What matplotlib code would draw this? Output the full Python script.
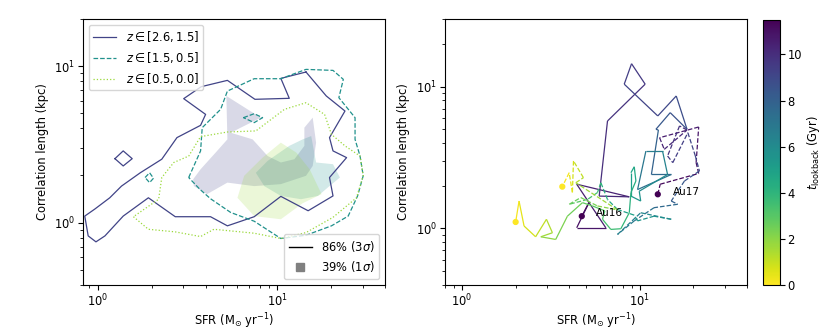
import numpy as np
import matplotlib
matplotlib.use('Agg')
import matplotlib.pyplot as plt
from matplotlib.collections import LineCollection
from matplotlib.lines import Line2D

# --- lewy panel: kontury 86% (linie) i 39% (wypełnienia) ---
hi_z_sfr = [14.5, 18.8, 23.9, 19.6, 20.5, 24.4, 19.6, 20.5, 14.9, 10.5, 7.46, 5.29, 4.26, 2.71, 1.92, 1.39,
            1.10, 0.98, 0.887, 0.849, 0.966, 1.17, 1.36, 1.73, 2.28, 2.77, 3.75, 4.00, 3.02, 3.78, 5.29, 7.53,
            11.7, 10.5]
hi_z_len = [9.16, 6.44, 5.16, 3.49, 2.87, 2.60, 1.94, 1.48, 1.19, 1.47, 1.09, 0.953, 1.09, 1.09, 1.44, 1.10,
            0.822, 0.753, 0.822, 1.10, 1.22, 1.44, 1.71, 2.08, 2.54, 3.49, 4.18, 4.91, 6.19, 7.38, 8.10, 6.13,
            6.22, 8.34]
hi_z_island_sfr = [1.25, 1.39, 1.56, 1.39]
hi_z_island_len = [2.56, 2.87, 2.56, 2.30]

mid_z_sfr = [3.22, 3.75, 3.83, 4.85, 5.29, 7.46, 10.5, 14.5, 20.5, 23.4, 22.1, 27.2, 27.2, 29.0, 30.2, 28.1,
             24.9, 20.1, 14.5, 10.5, 7.46, 5.52, 4.26, 3.72]
mid_z_len = [1.94, 2.87, 4.04, 5.29, 6.92, 8.30, 8.30, 9.52, 9.38, 8.22, 6.28, 4.68, 3.40, 2.66, 1.99, 1.48,
             1.10, 0.953, 0.830, 0.791, 1.02, 1.16, 1.42, 1.63]
mid_z_island1_sfr = [6.50, 7.46, 8.31, 7.46]
mid_z_island1_len = [4.68, 4.96, 4.68, 4.35]
mid_z_island2_sfr = [1.84, 1.95, 2.05, 1.95]
mid_z_island2_len = [1.94, 2.08, 1.92, 1.80]

lo_z_sfr = [1.585, 1.92, 2.71, 3.75, 4.45, 7.46, 10.5, 14.5, 20.5, 27.7, 30.2, 29.0, 23.9, 20.1, 18.4, 14.5,
            11.0, 7.62, 5.29, 3.75, 3.22, 2.66, 2.28, 2.19]
lo_z_len = [1.09, 0.906, 0.872, 0.814, 0.906, 0.855, 0.791, 0.863, 1.08, 1.44, 1.99, 2.66, 3.09, 3.66, 4.91,
            5.83, 5.29, 3.85, 3.79, 3.54, 2.66, 2.42, 1.94, 1.41]

hi_z_core_sfr = [3.41, 3.75, 4.55, 5.29, 5.22, 6.85, 8.13, 6.28, 5.52, 7.31, 8.87, 10.5, 12.5, 14.2, 14.2,
                 15.8, 16.5, 15.8, 14.5, 10.5, 7.46, 5.29, 4.08, 3.44]
hi_z_core_len = [1.89, 2.19, 2.80, 3.40, 6.44, 5.29, 4.68, 4.04, 3.75, 3.40, 2.66, 2.42, 2.54, 3.09, 4.04,
                 4.68, 3.24, 2.30, 1.99, 1.76, 1.71, 1.80, 1.52, 1.71]
mid_z_core_sfr = [7.62, 8.87, 11.7, 13.9, 15.5, 16.5, 20.5, 22.4, 19.6, 16.9, 13.6, 10.5, 8.49]
mid_z_core_len = [2.08, 2.48, 3.09, 3.40, 3.57, 2.42, 2.36, 1.94, 1.71, 1.48, 1.41, 1.48, 1.71]
lo_z_core_sfr = [6.02, 6.56, 8.31, 10.5, 12.8, 15.2, 17.7, 13.9, 10.5, 7.46]
lo_z_core_len = [1.44, 1.99, 2.60, 3.24, 2.80, 2.19, 1.52, 1.33, 1.05, 1.10]

z_labels = [r'$z \in [2.6, 1.5]$', r'$z \in [1.5, 0.5]$', r'$z \in [0.5, 0.0]$']

# --- prawy panel: ścieżki Au16 (ciągła) i Au17 (przerywana) ---
au16_sfr = [4.71, 5.18, 4.41, 6.43, 4.41, 8.71, 5.90, 6.57, 10.7, 8.97, 8.16, 12.6, 16.0, 18.4, 14.8, 12.3,
            12.7, 11.6, 15.0, 9.70, 10.8, 13.4, 14.3, 9.91, 10.1, 8.90, 8.90, 9.29, 9.49, 8.90, 8.71, 7.81,
            6.86, 6.16, 6.35, 5.41, 4.75, 3.91, 3.36, 2.77, 3.22, 2.98, 2.59, 2.23, 2.09, 2.00]
au16_len = [1.22, 1.53, 1.01, 1.01, 2.05, 1.67, 1.69, 5.72, 10.4, 14.5, 10.4, 6.21, 8.59, 5.00, 6.55, 5.00,
            4.94, 2.40, 2.40, 1.88, 3.51, 3.51, 2.40, 1.83, 1.56, 1.69, 2.47, 2.72, 2.16, 1.79, 1.29, 0.995,
            0.984, 1.16, 1.33, 1.44, 1.52, 1.22, 0.836, 0.873, 0.932, 1.16, 0.873, 1.04, 1.56, 1.11]
au16_t = [11.5, 11.2, 10.9, 10.7, 10.5, 10.3, 10.1, 9.9, 9.7, 9.5, 9.3, 9.1, 8.9, 8.7, 8.5, 8.3, 8.1, 7.8,
          7.5, 7.1, 6.8, 6.5, 6.2, 5.8, 5.5, 5.2, 4.9, 4.7, 4.5, 4.3, 4.0, 3.7, 3.5, 3.3, 3.1, 2.9, 2.7, 2.4,
          2.1, 1.8, 1.5, 1.2, 0.9, 0.6, 0.3, 0.0]

au17_sfr = [12.6, 13.0, 21.4, 20.7, 21.4, 12.9, 13.7, 18.4, 16.7, 14.3, 15.3, 18.6, 20.5, 21.6, 17.8, 15.0,
            16.3, 12.0, 9.29, 7.48, 10.1, 15.0, 12.0, 9.70, 9.29, 7.48, 6.57, 6.03, 5.77, 5.07, 4.00, 4.65,
            5.77, 7.48, 4.36, 4.81, 4.23, 4.17, 4.00, 3.66]
au17_len = [1.74, 2.05, 2.44, 2.91, 5.19, 4.36, 3.61, 4.94, 5.28, 3.24, 2.91, 4.73, 3.24, 2.54, 2.16, 1.56,
            1.48, 1.40, 1.13, 0.907, 1.29, 1.16, 1.22, 1.13, 1.24, 1.36, 1.60, 2.10, 1.79, 1.60, 1.48, 1.65,
            1.44, 1.35, 2.10, 2.28, 2.99, 1.79, 2.47, 1.97]
au17_t = [11.5, 11.3, 11.1, 10.9, 10.7, 10.5, 10.3, 10.1, 9.9, 9.7, 9.5, 9.3, 9.1, 8.8, 8.5, 8.2, 7.8, 7.4,
          7.0, 6.6, 6.3, 6.0, 5.7, 5.4, 5.1, 4.8, 4.4, 4.0, 3.6, 3.2, 2.8, 2.5, 2.2, 1.9, 1.5, 1.2, 0.9, 0.6,
          0.3, 0.0]

t_max = 11.5

plt.rcParams['font.size'] = 8.3
plt.rcParams['xtick.major.pad'] = 2
plt.rcParams['ytick.major.pad'] = 2
plt.rcParams['axes.labelpad'] = 1.5

fig = plt.figure(figsize=(8.3, 3.32), dpi=100)
ax1 = fig.add_axes([0.100, 0.142, 0.364, 0.801])
ax2 = fig.add_axes([0.536, 0.142, 0.364, 0.801])
cax = fig.add_axes([0.919, 0.142, 0.0205, 0.798])

viridis = plt.get_cmap('viridis')
c_hi, c_mid, c_lo = viridis(0.2), viridis(0.5), viridis(0.85)


def closed(xs, ys):
    return list(xs) + [xs[0]], list(ys) + [ys[0]]


# wypełnienia 1 sigma
ax1.fill(hi_z_core_sfr, hi_z_core_len, color=c_hi, alpha=0.2, lw=0)
ax1.fill(mid_z_core_sfr, mid_z_core_len, color=c_mid, alpha=0.2, lw=0)
ax1.fill(lo_z_core_sfr, lo_z_core_len, color=c_lo, alpha=0.2, lw=0)

# kontury 3 sigma
ax1.plot(*closed(hi_z_sfr, hi_z_len), color=c_hi, lw=0.9, ls='-', label=z_labels[0])
ax1.plot(*closed(hi_z_island_sfr, hi_z_island_len), color=c_hi, lw=0.9, ls='-')
ax1.plot(*closed(mid_z_sfr, mid_z_len), color=c_mid, lw=0.9, ls='--', label=z_labels[1])
ax1.plot(*closed(mid_z_island1_sfr, mid_z_island1_len), color=c_mid, lw=0.9, ls='--')
ax1.plot(*closed(mid_z_island2_sfr, mid_z_island2_len), color=c_mid, lw=0.9, ls='--')
ax1.plot(*closed(lo_z_sfr, lo_z_len), color=c_lo, lw=0.9, ls=':', label=z_labels[2])

ax1.set_xscale('log')
ax1.set_yscale('log')
ax1.set_xlim(0.83, 40)
ax1.set_ylim(0.4, 20)
ax1.set_xlabel(r'SFR (M$_{\odot}$ yr$^{-1}$)')
ax1.set_ylabel('Correlation length (kpc)', labelpad=4)

leg1 = ax1.legend(loc='upper left', fontsize=8.3)
ax1.add_artist(leg1)
handles = [Line2D([], [], color='k', lw=1),
           Line2D([], [], color='gray', marker='s', ls='none', markersize=6)]
ax1.legend(handles, [r'86% ($3\sigma$)', r'39% ($1\sigma$)'], loc='lower right', fontsize=8.3)

# ścieżki ewolucji
norm = plt.Normalize(0, t_max)
cmap = plt.get_cmap('viridis_r')


def track(ax, xs, ys, ts, ls):
    pts = np.column_stack([xs, ys])
    segs = np.stack([pts[:-1], pts[1:]], axis=1)
    tt = np.asarray(ts)
    lc = LineCollection(segs, cmap=cmap, norm=norm, linestyles=ls, linewidths=0.9)
    lc.set_array(0.5 * (tt[:-1] + tt[1:]))
    ax.add_collection(lc)
    ax.scatter([xs[0], xs[-1]], [ys[0], ys[-1]], c=[ts[0], ts[-1]], cmap=cmap, norm=norm, s=12, zorder=3)
    return lc


lc = track(ax2, au16_sfr, au16_len, au16_t, '-')
track(ax2, au17_sfr, au17_len, au17_t, '--')
ax2.text(5.65, 1.29, 'Au16', fontsize=7.5, va='center')
ax2.text(15.3, 1.80, 'Au17', fontsize=7.5, va='center')

ax2.set_xscale('log')
ax2.set_yscale('log')
ax2.set_xlim(0.8, 40)
ax2.set_ylim(0.4, 30)
ax2.set_xlabel(r'SFR (M$_{\odot}$ yr$^{-1}$)')
ax2.set_ylabel('Correlation length (kpc)', labelpad=4)

cb = fig.colorbar(lc, cax=cax)
cb.set_label(r'$t_{\rm lookback}$ (Gyr)', labelpad=2)

plt.savefig('out.png', dpi=100)
